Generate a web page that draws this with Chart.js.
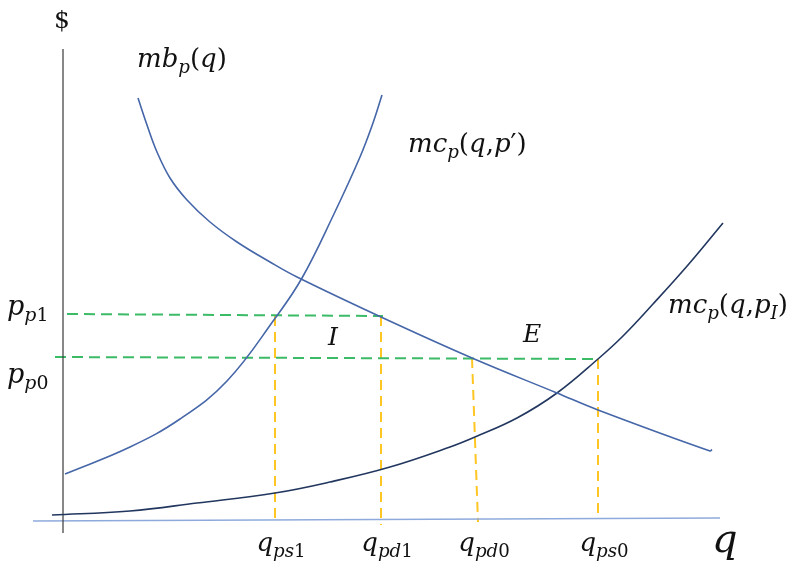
<!DOCTYPE html>
<html>
<head>
<meta charset="utf-8">
<script src="https://cdn.jsdelivr.net/npm/chart.js@4.4.0/dist/chart.umd.min.js"></script>
<style>html,body{margin:0;padding:0;background:#fff}</style>
</head>
<body>
<canvas id="chart" width="800" height="569"></canvas>
<script>
// curves: quantity q and price $
const mbQ = [7.5, 8.4, 9.4, 10.7, 12.4, 14.7, 17.4, 20.7, 23.4, 31.8, 40.9, 49.4, 53.5, 64.7, 64.9];
const mbP = [42.2, 39.5, 36.8, 34.2, 32.0, 29.8, 27.8, 25.8, 24.3, 20.3, 16.2, 12.7, 11.0, 6.9, 7.05];

const mcPrimeQ = [0.2, 6.7, 11.7, 16.4, 21.3, 23.9, 27.0, 29.7, 31.0, 31.9];
const mcPrimeP = [4.6, 7.3, 10.1, 13.9, 20.3, 24.2, 30.4, 36.3, 39.7, 42.5];

const mcIQ = [-1.1, 6.7, 13.4, 21.2, 26.7, 32.7, 38.7, 41.2, 45.4, 49.4, 53.5, 56.0, 59.0, 62.5, 66.0];
const mcIP = [0.5, 0.9, 1.7, 2.7, 3.8, 5.3, 7.3, 8.3, 10.2, 12.7, 16.1, 18.4, 21.6, 25.5, 29.7];

// price levels p_p1, p_p0 (start q, end q, price at start, price at end)
const priceNames = ['p1', 'p0'];
const priceStartQ = [0.4, -0.8];
const priceEndQ = [32.0, 53.5];
const priceStartP = [20.6, 16.3];
const priceEndP = [20.4, 16.1];

// quantity levels on the q axis
const tickLabels = ['ps1', 'pd1', 'pd0', 'ps0'];
const tickTopQ = [21.2, 31.8, 40.9, 53.5];
const tickTopP = [20.4, 20.4, 16.2, 16.1];
const tickBottomQ = [21.2, 31.8, 41.5, 53.5];
const tickBottomP = [-0.2, -0.5, -0.2, 0.2];

function pts(xs, ys) {
  return xs.map((x, i) => ({x: x, y: ys[i]}));
}

const curveStyle = {showLine: true, pointRadius: 0, borderWidth: 1.6, tension: 0.4, fill: false};
const green = '#3cbb67';
const gold = '#ffc623';

const datasets = [
  Object.assign({data: pts(mbQ, mbP), borderColor: '#4566a8'}, curveStyle),
  Object.assign({data: pts(mcPrimeQ, mcPrimeP), borderColor: '#4566a8'}, curveStyle),
  Object.assign({data: pts(mcIQ, mcIP), borderColor: '#22375f'}, curveStyle),
  // axes
  {data: [{x: 0, y: 47.1}, {x: 0, y: -1.3}], showLine: true, pointRadius: 0, borderWidth: 1.2, borderColor: '#3a3a3a'},
  {data: [{x: -3.0, y: -0.1}, {x: 65.7, y: 0.2}], showLine: true, pointRadius: 0, borderWidth: 1.6, borderColor: '#8eaadc'}
];
priceNames.forEach((n, i) => {
  datasets.push({
    data: [{x: priceStartQ[i], y: priceStartP[i]}, {x: priceEndQ[i], y: priceEndP[i]}],
    showLine: true, pointRadius: 0, borderWidth: 2, borderColor: green, borderDash: [11, 6]
  });
});
tickLabels.forEach((n, i) => {
  datasets.push({
    data: [{x: tickTopQ[i], y: tickTopP[i]}, {x: tickBottomQ[i], y: tickBottomP[i]}],
    showLine: true, pointRadius: 0, borderWidth: 2, borderColor: gold, borderDash: [10, 6]
  });
});

// text with subscripts: each part is [text, italic?, subscript?]
function drawMath(ctx, parts, x, y, size, align) {
  const fontOf = p => (p[1] ? 'italic ' : '') + (p[2] ? size * 0.7 : size) + 'px "DejaVu Serif"';
  let total = 0;
  parts.forEach(p => { ctx.font = fontOf(p); total += ctx.measureText(p[0]).width; });
  let cx = align === 'center' ? x - total / 2 : x;
  parts.forEach(p => {
    ctx.font = fontOf(p);
    ctx.fillText(p[0], cx, y + (p[2] ? size * 0.24 : 0));
    cx += ctx.measureText(p[0]).width;
  });
}

const labels = [
  {parts: [['$', false, false]], q: -0.1, p: 49.2, size: 25, align: 'center'},
  {parts: [['mb', true], ['p', true, true], ['(', false], ['q', true], [')', false]], q: 7.4, p: 45.3, size: 26},
  {parts: [['mc', true], ['p', true, true], ['(', false], ['q', true], [',', false], ['p', true], ['\u2032', false], [')', false]], q: 34.5, p: 36.8, size: 26},
  {parts: [['mc', true], ['p', true, true], ['(', false], ['q', true], [',', false], ['p', true], ['I', true, true], [')', false]], q: 60.5, p: 20.7, size: 26},
  {parts: [['I', true]], q: 26.5, p: 17.5, size: 25},
  {parts: [['E', true]], q: 46.0, p: 17.8, size: 25},
  {parts: [['q', true]], q: 64.9, p: -3.2, size: 40}
];

const textPlugin = {
  id: 'mathText',
  afterDatasetsDraw(chart) {
    const c = chart.ctx;
    const xs = chart.scales.x, ys = chart.scales.y;
    c.save();
    c.fillStyle = '#111';
    c.textBaseline = 'alphabetic';
    labels.forEach(l => drawMath(c, l.parts, xs.getPixelForValue(l.q), ys.getPixelForValue(l.p), l.size, l.align));
    // price labels on the $ axis
    priceNames.forEach((n, i) => {
      drawMath(c, [['p', true], ['p', true, true], [n.slice(1), false, true]],
        xs.getPixelForValue(-5.6), ys.getPixelForValue(i === 0 ? 20.5 : 13.7), 27);
    });
    // quantity labels under the q axis
    tickLabels.forEach((n, i) => {
      drawMath(c, [['q', true], [n.slice(0, 2), true, true], [n.slice(2), false, true]],
        xs.getPixelForValue(tickBottomQ[i] + 0.6), ys.getPixelForValue(-3.1), 26, 'center');
    });
    c.restore();
  }
};

new Chart(document.getElementById('chart'), {
  type: 'scatter',
  data: {datasets: datasets},
  options: {
    responsive: false,
    animation: false,
    layout: {padding: 0},
    plugins: {legend: {display: false}, tooltip: {enabled: false}},
    scales: {
      x: {type: 'linear', min: -6.3, max: 73.7, display: false},
      y: {type: 'linear', min: -4.9, max: 52.0, display: false}
    }
  },
  plugins: [textPlugin]
});
</script>
</body>
</html>
